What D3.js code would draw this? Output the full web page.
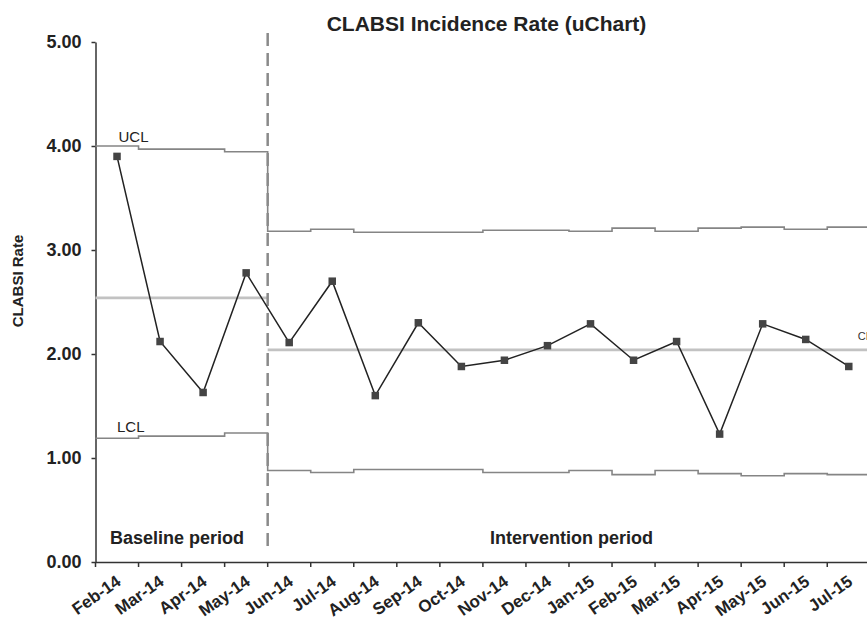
<!DOCTYPE html>
<html>
<head>
<meta charset="utf-8">
<script src="https://cdn.jsdelivr.net/npm/d3@7.9.0/dist/d3.min.js"></script>
<style>
  html, body { margin: 0; padding: 0; background: #fff; }
  svg { display: block; font-family: "Liberation Sans", Arial, sans-serif; }
</style>
</head>
<body>
<svg id="chart" width="867" height="621"></svg>
<script>
// monthly CLABSI rates (per 1000 line days)
const months = ["Feb-14", "Mar-14", "Apr-14", "May-14", "Jun-14", "Jul-14", "Aug-14", "Sep-14", "Oct-14",
  "Nov-14", "Dec-14", "Jan-15", "Feb-15", "Mar-15", "Apr-15", "May-15", "Jun-15", "Jul-15"];
const rates = [3.90, 2.12, 1.63, 2.78, 2.11, 2.70, 1.60, 2.30, 1.88, 1.94, 2.08, 2.29, 1.94, 2.12, 1.23, 2.29, 2.14, 1.88];
const ucl = [4.00, 3.97, 3.97, 3.945, 3.18, 3.20, 3.17, 3.17, 3.17, 3.19, 3.19, 3.18, 3.21, 3.18, 3.21, 3.22, 3.20, 3.22];
const lcl = [1.19, 1.21, 1.21, 1.24, 0.88, 0.86, 0.89, 0.89, 0.89, 0.86, 0.86, 0.88, 0.84, 0.88, 0.85, 0.83, 0.85, 0.84];

// two periods, each with its own centre line
const periodNames = ["Baseline period", "Intervention period"];
const periodFirst = ["Feb-14", "Jun-14"];
const periodLast = ["May-14", "Jul-15"];
const centerLine = [2.54, 2.04];

const yTicks = [0, 1, 2, 3, 4, 5];

const svg = d3.select("#chart");

const x = d3.scaleBand()
  .domain(months)
  .range([95.5, 870.3]);
const bw = x.bandwidth();

const y = d3.scaleLinear()
  .domain([0, 5])
  .range([562, 42]);

// title
svg.append("text")
  .attr("x", 486.5)
  .attr("y", 31)
  .attr("text-anchor", "middle")
  .style("font-size", "21px")
  .style("font-weight", "bold")
  .attr("fill", "#222")
  .text("CLABSI Incidence Rate (uChart)");

// y axis
const yAxis = svg.append("g")
  .attr("transform", `translate(${x.range()[0]},0)`)
  .call(d3.axisLeft(y).tickValues(yTicks).tickFormat(d3.format(".2f")).tickSize(4).tickSizeOuter(0).tickPadding(10));
yAxis.select(".domain").attr("stroke", "#333").attr("stroke-width", 1.5);
yAxis.selectAll(".tick line").attr("stroke", "#333").attr("stroke-width", 1.5);
yAxis.selectAll("text")
  .style("font-size", "18px")
  .style("font-weight", "bold")
  .attr("fill", "#222");

svg.append("text")
  .attr("transform", "translate(23,281) rotate(-90)")
  .attr("text-anchor", "middle")
  .style("font-size", "15px")
  .style("font-weight", "bold")
  .attr("fill", "#222")
  .text("CLABSI Rate");

// x axis, labels at band centres, ticks on band edges
const xAxis = svg.append("g")
  .attr("transform", `translate(0,${y(0)})`)
  .call(d3.axisBottom(x).tickSize(0).tickSizeOuter(0));
xAxis.select(".domain").attr("stroke", "#333").attr("stroke-width", 1.5);
xAxis.selectAll("text")
  .attr("x", 0)
  .attr("y", 0)
  .attr("dy", 0)
  .attr("text-anchor", "end")
  .attr("transform", "translate(5,22) rotate(-35)")
  .style("font-size", "17px")
  .style("font-weight", "bold")
  .attr("fill", "#222");

svg.append("g")
  .selectAll("line")
  .data(months)
  .join("line")
  .attr("x1", d => x(d))
  .attr("x2", d => x(d))
  .attr("y1", y(0))
  .attr("y2", y(0) + 5)
  .attr("stroke", "#333")
  .attr("stroke-width", 1.5);

// control limits as month-wide steps
function stepPoints(vals) {
  const pts = [];
  months.forEach((m, i) => {
    pts.push([x(m), y(vals[i])]);
    pts.push([x(m) + bw, y(vals[i])]);
  });
  return pts;
}
const stepLine = d3.line();

[ucl, lcl].forEach(vals => {
  svg.append("path")
    .attr("d", stepLine(stepPoints(vals)))
    .attr("fill", "none")
    .attr("stroke", "#858585")
    .attr("stroke-width", 1.6);
});

svg.append("text")
  .attr("x", x(months[0]) + 23)
  .attr("y", y(ucl[0]) - 4)
  .style("font-size", "15px")
  .attr("fill", "#222")
  .text("UCL");
svg.append("text")
  .attr("x", x(months[0]) + 21.5)
  .attr("y", y(lcl[0]) - 6)
  .style("font-size", "15px")
  .attr("fill", "#222")
  .text("LCL");

// centre lines per period
periodNames.forEach((p, i) => {
  svg.append("line")
    .attr("x1", x(periodFirst[i]))
    .attr("x2", x(periodLast[i]) + bw)
    .attr("y1", y(centerLine[i]))
    .attr("y2", y(centerLine[i]))
    .attr("stroke", "#c2c2c2")
    .attr("stroke-width", 2.8);
});
svg.append("text")
  .attr("x", 857.7)
  .attr("y", y(centerLine[1]) - 10)
  .style("font-size", "11px")
  .attr("fill", "#333")
  .text("CL");

// period divider
const divX = x(periodFirst[1]);
svg.append("line")
  .attr("x1", divX)
  .attr("x2", divX)
  .attr("y1", y(5) - 9)
  .attr("y2", y(0) - 12)
  .attr("stroke", "#8a8a8a")
  .attr("stroke-width", 2.5)
  .attr("stroke-dasharray", "13,7");

svg.append("text")
  .attr("x", 110)
  .attr("y", 543.5)
  .style("font-size", "18px")
  .style("font-weight", "bold")
  .attr("fill", "#222")
  .text(periodNames[0]);
svg.append("text")
  .attr("x", 490)
  .attr("y", 543.5)
  .style("font-size", "18px")
  .style("font-weight", "bold")
  .attr("fill", "#222")
  .text(periodNames[1]);

// data series
const data = months.map((m, i) => ({ month: m, rate: rates[i] }));
const line = d3.line()
  .x(d => x(d.month) + bw / 2)
  .y(d => y(d.rate));

svg.append("path")
  .datum(data)
  .attr("d", line)
  .attr("fill", "none")
  .attr("stroke", "#222")
  .attr("stroke-width", 1.5);

svg.append("g")
  .selectAll("rect")
  .data(data)
  .join("rect")
  .attr("x", d => x(d.month) + bw / 2 - 3.75)
  .attr("y", d => y(d.rate) - 3.75)
  .attr("width", 7.5)
  .attr("height", 7.5)
  .attr("fill", "#444");
</script>
</body>
</html>
